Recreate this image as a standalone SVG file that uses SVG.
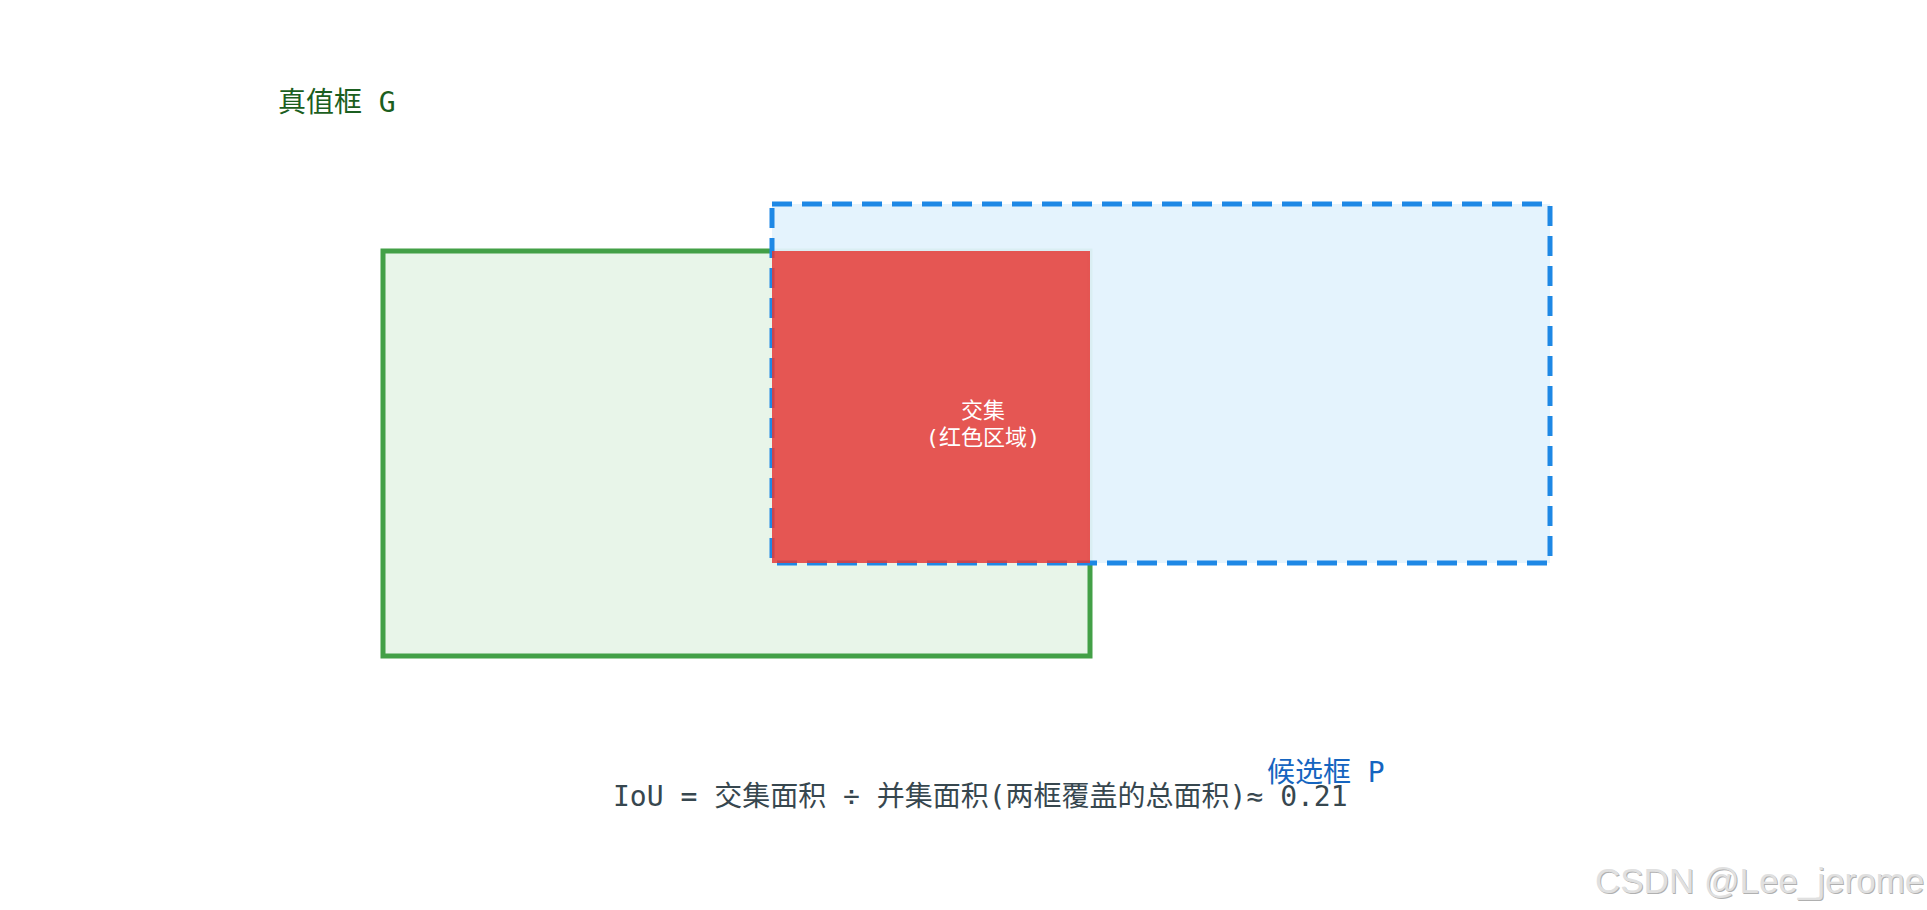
<svg xmlns="http://www.w3.org/2000/svg" width="1927" height="910" viewBox="0 0 1927 910">
<style>
.lbl{font-family:"DejaVu Sans Mono","Noto Sans CJK SC",monospace;}
.t28{font-size:28px;}
.t22{font-size:22px;}
.wm{font-family:"Liberation Sans",Arial,sans-serif;font-size:35px;}
</style>
<rect width="1927" height="910" fill="#ffffff"/>
<g id="gt-box">
<rect x="383" y="251" width="707" height="405" fill="#e8f5e9" stroke="#43a047" stroke-width="5"/>
</g>
<g id="pred-box">
<rect x="772" y="204" width="778" height="359" fill="#e3f2fd" fill-opacity="0.95" stroke="#1e88e5" stroke-width="5" stroke-dasharray="20 10"/>
</g>
<g id="intersection">
<rect x="772" y="251" width="318" height="312" fill="#e53935" fill-opacity="0.85"/>
<text class="lbl t22" x="983" y="418" fill="#ffffff" text-anchor="middle">交集</text>
<text class="lbl t22" x="983" y="445" fill="#ffffff" text-anchor="middle">(红色区域)</text>
</g>
<g id="gt-label">
<text class="lbl t28" x="278" y="112" fill="#1b5e20">真值框 G</text>
</g>
<g id="pred-label">
<text class="lbl t28" x="1267" y="782" fill="#1565c0">候选框 P</text>
</g>
<g id="formula">
<text class="lbl t28" x="613" y="806" fill="#37474f">IoU = 交集面积 ÷ 并集面积(两框覆盖的总面积)≈ 0.21</text>
</g>
<g id="connectors"></g>
<g id="watermark">
<text class="wm" x="1596" y="894" fill="#b0b0b0">CSDN @Lee_jerome</text>
<text class="wm" x="1595" y="893" fill="#e0e0e0">CSDN @Lee_jerome</text>
</g>
</svg>
